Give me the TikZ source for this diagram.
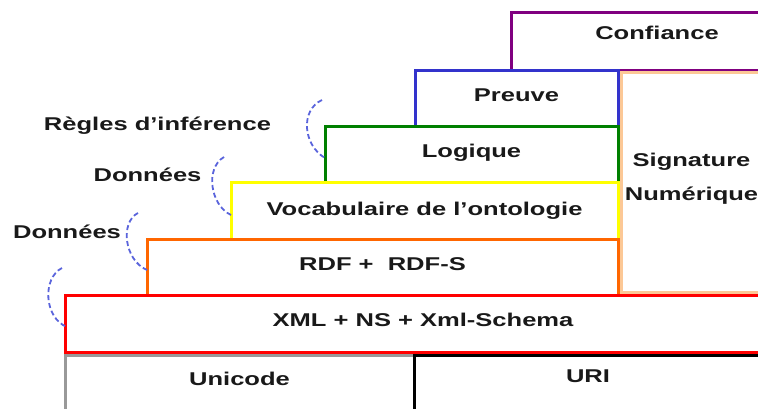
\documentclass[tikz,border=0pt]{standalone}
\usepackage{fontspec}
\usepackage{tikz}
\usetikzlibrary{positioning}
\newfontfamily\layerfont[FakeStretch=1.38]{Liberation Sans}
\definecolor{confcol}{RGB}{128,0,128}
\definecolor{preuvecol}{RGB}{51,51,204}
\definecolor{logcol}{RGB}{0,128,0}
\definecolor{vocabcol}{RGB}{255,255,0}
\definecolor{rdfcol}{RGB}{255,102,0}
\definecolor{sigcol}{RGB}{252,200,150}
\definecolor{unicol}{RGB}{153,153,153}
\definecolor{bracecol}{RGB}{90,100,220}
\tikzstyle{layer}=[draw, rectangle, line width=3pt, outer sep=0pt, inner sep=0pt, anchor=north west, text=black!90, font=\layerfont\bfseries\fontsize{18.5}{22}\selectfont]
\tikzstyle{side}=[inner sep=0pt, text=black!90, font=\layerfont\bfseries\fontsize{18.5}{22}\selectfont]
\tikzstyle{brace}=[draw=bracecol, line width=1.8pt, dash pattern=on 5pt off 3pt]

\begin{document}
\begin{tikzpicture}[x=1pt, y=1pt]
  \useasboundingbox (0,0) rectangle (758,408);
  \clip (0,0) rectangle (758,408);
  % stack, from the top down
  \node [layer, draw=confcol, minimum width=292pt, minimum height=58pt] (confiance) at (511,395) {\raisebox{19pt}{Confiance}};
  \node [layer, draw=preuvecol, minimum width=203pt, minimum height=55pt] (preuve) at ([xshift=-96pt]confiance.south west) {\raisebox{6pt}{Preuve}};
  \node [layer, draw=logcol, minimum width=293pt, minimum height=56pt] (logique) at ([xshift=-90pt]preuve.south west) {\raisebox{6pt}{Logique}};
  \node [layer, draw=vocabcol, minimum width=387pt, minimum height=57pt] (vocab) at ([xshift=-94pt]logique.south west) {\raisebox{3pt}{Vocabulaire de l’ontologie}};
  \node [layer, draw=rdfcol, minimum width=471pt, minimum height=56pt] (rdf) at ([xshift=-84pt]vocab.south west) {\raisebox{5pt}{RDF +\ \ RDF-S}};
  \node [layer, draw=red, minimum width=716pt, minimum height=57pt] (xml) at ([xshift=-82pt]rdf.south west) {\raisebox{7pt}{XML + NS + Xml-Schema}};
  \node [layer, draw=unicol, minimum width=349pt, minimum height=60pt] (unicode) at ([yshift=-3pt]xml.south west) {\raisebox{12pt}{Unicode}};
  \node [layer, draw=black, minimum width=348pt, minimum height=60pt] (uri) at (unicode.north east) {\raisebox{18pt}{URI}};
  \node [layer, draw=sigcol, minimum width=141pt, minimum height=219pt, align=center] (signature) at ([xshift=3pt, yshift=-2pt]preuve.north east) {Signature\\[12pt]Numérique\\[-10pt]};

  % side labels
  \node [side] (regles) at (157.5,282) {Règles d’inférence};
  \node [side] (donnees1) at (147.5,233) {Données};
  \node [side] (donnees2) at (67,176) {Données};

  % dashed arcs
  \coordinate (b1) at (322,308);
  \coordinate (b2) at (224,251);
  \coordinate (b3) at (138,195);
  \coordinate (b4) at (62,140);
  \draw [brace] (b1) .. controls (300,298) and (303,263) .. ([yshift=-32pt]logique.north west);
  \draw [brace] (b2) .. controls (205,240) and (210,203) .. ([yshift=-33pt]vocab.north west);
  \draw [brace] (b3) .. controls (120,186) and (124,148) .. ([yshift=-31pt]rdf.north west);
  \draw [brace] (b4) .. controls (42,130) and (44,90) .. ([xshift=2pt, yshift=-32pt]xml.north west);
\end{tikzpicture}
\end{document}
